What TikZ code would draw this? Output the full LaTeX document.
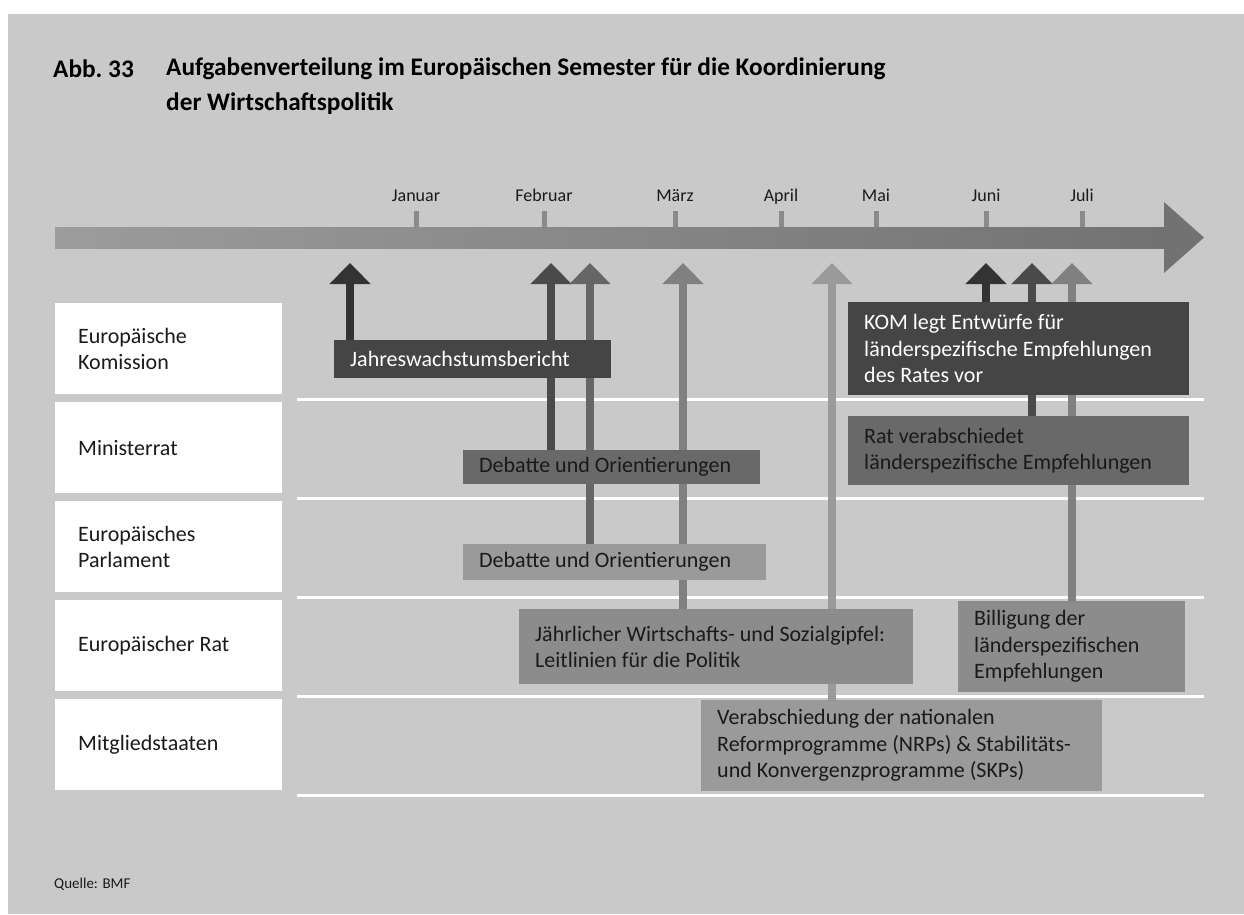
\documentclass[tikz,border=0pt]{standalone}
\usepackage{fontspec}
\setmainfont{Carlito}
\usetikzlibrary{arrows.meta}

% Farben
\definecolor{bggray}{HTML}{C9C9C9}
\definecolor{shaftL}{HTML}{9C9C9C}
\definecolor{shaftR}{HTML}{727272}
\definecolor{tickgray}{HTML}{8A8A8A}
\definecolor{boxA}{HTML}{454545}
\definecolor{boxB}{HTML}{696969}
\definecolor{boxC}{HTML}{8C8C8C}
\definecolor{boxD}{HTML}{9A9A9A}
\definecolor{arrA}{HTML}{333333}
\definecolor{arrB}{HTML}{4A4A4A}
\definecolor{arrC}{HTML}{666666}
\definecolor{arrD}{HTML}{808080}
\definecolor{arrE}{HTML}{9A9A9A}
\definecolor{ink}{HTML}{1A1A1A}

\pgfdeclarelayer{back}
\pgfdeclarelayer{mid}
\pgfsetlayers{back,mid,main}

\tikzset{
    rowlabel/.style={fill=white, anchor=north west, minimum height=91pt,
        text width=181pt, inner xsep=23pt, inner ysep=0pt, align=left,
        font=\fontsize{22}{26.5}\selectfont, text=ink,
        execute at begin node={\spaceskip=0pt\xspaceskip=0pt\relax}},
    evbox/.style={anchor=north west, inner xsep=16pt, inner ysep=0pt,
        align=left, font=\fontsize{22}{26.5}\selectfont, text=ink,
        execute at begin node={\spaceskip=0pt\xspaceskip=0pt\relax}},
    uparrow/.style={line width=8pt, -{Triangle[width=40pt,length=21pt]}},
    month/.style={anchor=base, font=\fontsize{18}{20}\selectfont, text=ink},
    titel/.style={inner sep=0pt, font=\bfseries\fontsize{25.3}{35}\selectfont},
}

\begin{document}
\begin{tikzpicture}[x=1pt, y=-1pt]
    \useasboundingbox (0,0) rectangle (1244,914);
    \begin{pgfonlayer}{back}
        \fill[bggray] (8,14) rectangle (1244,914);
        % Zeitstrahl
        \shade[left color=shaftL, right color=shaftR] (55,227) rectangle (1164,248);
        \fill[shaftR] (1164,202) -- (1204,237.5) -- (1164,273) -- cycle;
        % Trennlinien
        \foreach \y in {399,498,597,696,795}
            \draw[white, line width=3pt] (297,\y) -- (1204,\y);
    \end{pgfonlayer}

    % Titel
    \node[titel, anchor=base west] (abb) at (53,77) {Abb.~33};
    \node[titel, anchor=north west, align=left] (titel) at (166,58)
        {Aufgabenverteilung im Europäischen Semester für die Koordinierung\\der Wirtschaftspolitik};

    % Monate
    \foreach \m/\x [count=\i] in {Januar/416, Februar/544, März/675, April/781, Mai/876, Juni/986, Juli/1082} {
        \fill[tickgray] (\x-2.5,211) rectangle (\x+2.5,227);
        \node[month] (mon\i) at (\x,201) {\m};
    }

    % Akteure
    \foreach \t [count=\i] in {{Europäische\\Komission}, Ministerrat, {Europäisches\\Parlament}, Europäischer Rat, Mitgliedstaaten}
        \node[rowlabel] (row\i) at (55,{303+99*(\i-1)}) {\t};

    % Ereignisse
    \node[evbox, fill=boxA, text=white, text width=245pt, minimum height=38pt] (jwb) at (334,340) {Jahreswachstumsbericht};
    \node[evbox, fill=boxB, text width=265pt, minimum height=34pt] (debmin) at (463,450) {Debatte und Orientierungen};
    \node[evbox, fill=boxD, text width=271pt, minimum height=36pt] (debparl) at (463,544) {Debatte und Orientierungen};
    \node[evbox, fill=boxC, text width=362pt, minimum height=75pt] (gipfel) at (519,609)
        {Jährlicher Wirtschafts- und Sozialgipfel:\\Leitlinien für die Politik};
    \node[evbox, fill=boxA, text=white, text width=309pt, minimum height=93pt] (kom) at (848,302)
        {KOM legt Entwürfe für\\länderspezifische Empfehlungen\\des Rates vor};
    \node[evbox, fill=boxB, text width=309pt, minimum height=69pt] (ratempf) at (848,416)
        {Rat verabschiedet\\länderspezifische Empfehlungen};
    \node[evbox, fill=boxC, text width=195pt, minimum height=91pt] (billig) at (958,601)
        {Billigung der\\länderspezifischen\\Empfehlungen};
    \node[evbox, fill=boxD, text width=369pt, minimum height=91pt] (nrp) at (701,700)
        {Verabschiedung der nationalen\\Reformprogramme (NRPs) \& Stabilitäts-\\und Konvergenzprogramme (SKPs)};

    % Pfeile zum Zeitstrahl
    \begin{pgfonlayer}{mid}
        \foreach \x/\src/\col [count=\i] in {350/jwb/arrA, 551/debmin/arrB, 590/debparl/arrC, 683/gipfel/arrD,
                832/nrp/arrE, 986/kom/arrA, 1032/ratempf/arrB, 1072/billig/arrD} {
            \coordinate (tip\i) at (\x,263);
            \draw[uparrow, \col] (tip\i |- \src.north) -- (tip\i);
        }
    \end{pgfonlayer}

    % Quelle
    \node[anchor=west, inner sep=0pt, font=\fontsize{15}{17}\selectfont, text=ink] (quelle) at (54,884) {Quelle: BMF};
\end{tikzpicture}
\end{document}
